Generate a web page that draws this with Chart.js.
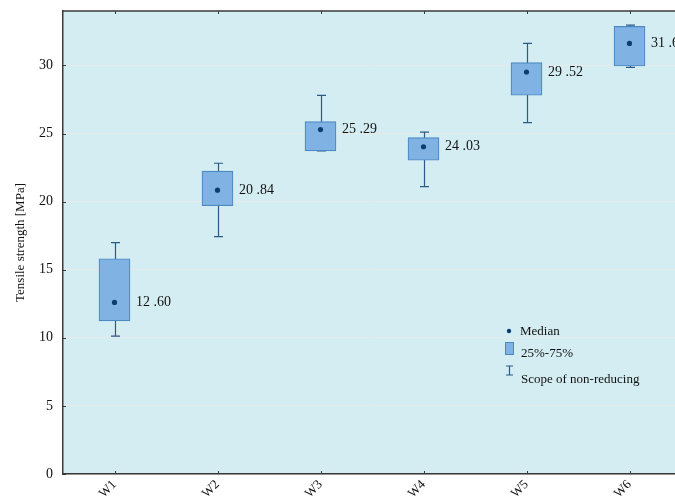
<!DOCTYPE html>
<html>
<head>
<meta charset="utf-8">
<script src="https://cdn.jsdelivr.net/npm/chart.js@4/dist/chart.umd.min.js"></script>
<style>
  html, body { margin: 0; padding: 0; background: #ffffff; overflow: hidden; }
  #wrap { width: 700px; height: 497px; position: relative; }
</style>
</head>
<body>
<div id="wrap"><canvas id="c" width="700" height="497"></canvas></div>
<script>
// Tensile strength per sample group
const categories = ['W1', 'W2', 'W3', 'W4', 'W5', 'W6'];
const medians    = [12.60, 20.84, 25.29, 24.03, 29.52, 31.62];
const q25        = [11.24, 19.70, 23.73, 23.04, 27.81, 29.96];
const q75        = [15.81, 22.24, 25.88, 24.71, 30.21, 32.87];
const whiskerLow = [10.12, 17.43, 23.73, 21.11, 25.81, 29.86];
const whiskerHigh= [16.99, 22.82, 27.81, 25.10, 31.62, 32.97];
const yTicks     = [0, 5, 10, 15, 20, 25, 30];
const legendItems = ['Median', '25%-75%', 'Scope of non-reducing'];

const FONT = '"Liberation Serif", "Times New Roman", serif';
const COL = {
  plotBg: '#d4edf2',
  grid: '#e7eaea',
  axis: '#3a3a3a',
  boxFill: '#80b3e4',
  boxEdge: '#4c89c3',
  whisker: '#2a5a86',
  median: '#0a3f70',
  text: '#111111'
};

function fmt(v) {
  const s = v.toFixed(2).split('.');
  return s[0] + ' .' + s[1];
}

const boxPlugin = {
  id: 'boxExtras',
  beforeDraw(chart) {
    const { ctx, chartArea: a } = chart;
    ctx.save();
    ctx.fillStyle = COL.plotBg;
    ctx.fillRect(a.left, a.top, a.right - a.left, a.bottom - a.top);
    ctx.restore();
  },
  beforeDatasetsDraw(chart) {
    // whiskers behind the boxes
    const { ctx, scales: { x, y } } = chart;
    ctx.save();
    ctx.strokeStyle = COL.whisker;
    ctx.lineWidth = 1.2;
    categories.forEach((c, i) => {
      const px = Math.round(x.getPixelForValue(i)) + 0.5;
      const lo = y.getPixelForValue(whiskerLow[i]);
      const hi = y.getPixelForValue(whiskerHigh[i]);
      ctx.beginPath();
      ctx.moveTo(px, lo); ctx.lineTo(px, hi);
      ctx.moveTo(px - 4.5, lo); ctx.lineTo(px + 4.5, lo);
      ctx.moveTo(px - 4.5, hi); ctx.lineTo(px + 4.5, hi);
      ctx.stroke();
    });
    ctx.restore();
  },
  afterDatasetsDraw(chart) {
    const { ctx, chartArea: a, scales: { x, y } } = chart;
    ctx.save();
    // frame: top border line
    ctx.strokeStyle = COL.axis;
    ctx.lineWidth = 1.5;
    ctx.beginPath();
    ctx.moveTo(a.left, a.top); ctx.lineTo(a.right + 2, a.top);
    ctx.stroke();
    // inward tick marks
    ctx.lineWidth = 1;
    ctx.beginPath();
    categories.forEach((c, i) => {
      const px = Math.round(x.getPixelForValue(i)) + 0.5;
      ctx.moveTo(px, a.bottom); ctx.lineTo(px, a.bottom - 3);
      ctx.moveTo(px, a.top); ctx.lineTo(px, a.top + 3);
    });
    yTicks.forEach(v => {
      const py = Math.round(y.getPixelForValue(v)) + 0.5;
      ctx.moveTo(a.left, py); ctx.lineTo(a.left + 3, py);
    });
    ctx.stroke();

    // median value labels
    const meta = chart.getDatasetMeta(0);
    ctx.fillStyle = COL.text;
    ctx.font = '14px ' + FONT;
    ctx.textBaseline = 'middle';
    ctx.textAlign = 'left';
    medians.forEach((m, i) => {
      const bar = meta.data[i];
      const right = bar.x + bar.width / 2;
      ctx.fillText(fmt(m), right + 6, y.getPixelForValue(m));
    });

    // legend
    const lx = 509, ly = 331;
    ctx.fillStyle = COL.median;
    ctx.beginPath(); ctx.arc(lx, ly, 2.2, 0, Math.PI * 2); ctx.fill();
    ctx.fillStyle = COL.boxFill;
    ctx.strokeStyle = COL.boxEdge;
    ctx.lineWidth = 1;
    ctx.fillRect(505, 342, 8, 12);
    ctx.strokeRect(505.5, 342.5, 8, 12);
    ctx.strokeStyle = COL.whisker;
    ctx.lineWidth = 1.2;
    ctx.beginPath();
    ctx.moveTo(509.5, 366); ctx.lineTo(509.5, 375);
    ctx.moveTo(506, 366); ctx.lineTo(513, 366);
    ctx.moveTo(506, 375); ctx.lineTo(513, 375);
    ctx.stroke();
    ctx.fillStyle = COL.text;
    ctx.font = '13px ' + FONT;
    ctx.textBaseline = 'alphabetic';
    ctx.fillText(legendItems[0], 520, 335);
    ctx.fillText(legendItems[1], 521, 357);
    ctx.fillText(legendItems[2], 521, 383);
    ctx.restore();
  }
};

new Chart(document.getElementById('c'), {
  type: 'bar',
  data: {
    labels: categories,
    datasets: [
      {
        label: '25%-75%',
        data: categories.map((c, i) => [q25[i], q75[i]]),
        backgroundColor: COL.boxFill,
        borderColor: COL.boxEdge,
        borderWidth: 1.2,
        borderSkipped: false,
        barThickness: 31,
        order: 2
      },
      {
        type: 'line',
        label: 'Median',
        data: medians,
        showLine: false,
        pointRadius: 2.6,
        pointBackgroundColor: COL.median,
        pointBorderWidth: 0,
        order: 1
      }
    ]
  },
  plugins: [boxPlugin],
  options: {
    responsive: false,
    animation: false,
    layout: { padding: { top: 11, right: 19, left: 13, bottom: 0 } },
    plugins: { legend: { display: false }, tooltip: { enabled: false } },
    scales: {
      x: {
        offset: true,
        grid: { display: false, drawTicks: false },
        border: { display: true, color: COL.axis, width: 1.5 },
        ticks: {
          color: COL.text,
          font: { family: FONT, size: 13 },
          minRotation: 45, maxRotation: 45,
          padding: 3
        },
        afterFit(s) { s.height = 23; }
      },
      y: {
        min: 0, max: 34,
        afterBuildTicks(s) { s.ticks = yTicks.map(v => ({ value: v })); },
        grid: { color: COL.grid, lineWidth: 1, drawTicks: false },
        border: { display: true, color: COL.axis, width: 1.5 },
        ticks: {
          color: COL.text,
          font: { family: FONT, size: 14 },
          padding: 10
        },
        title: {
          display: true,
          text: 'Tensile strength [MPa]',
          color: COL.text,
          font: { family: FONT, size: 13 },
          padding: { top: 0, bottom: 4 }
        },
        afterFit(s) { s.width = 50; s.paddingTop = 0; s.paddingBottom = 0; }
      }
    }
  }
});
</script>
</body>
</html>
